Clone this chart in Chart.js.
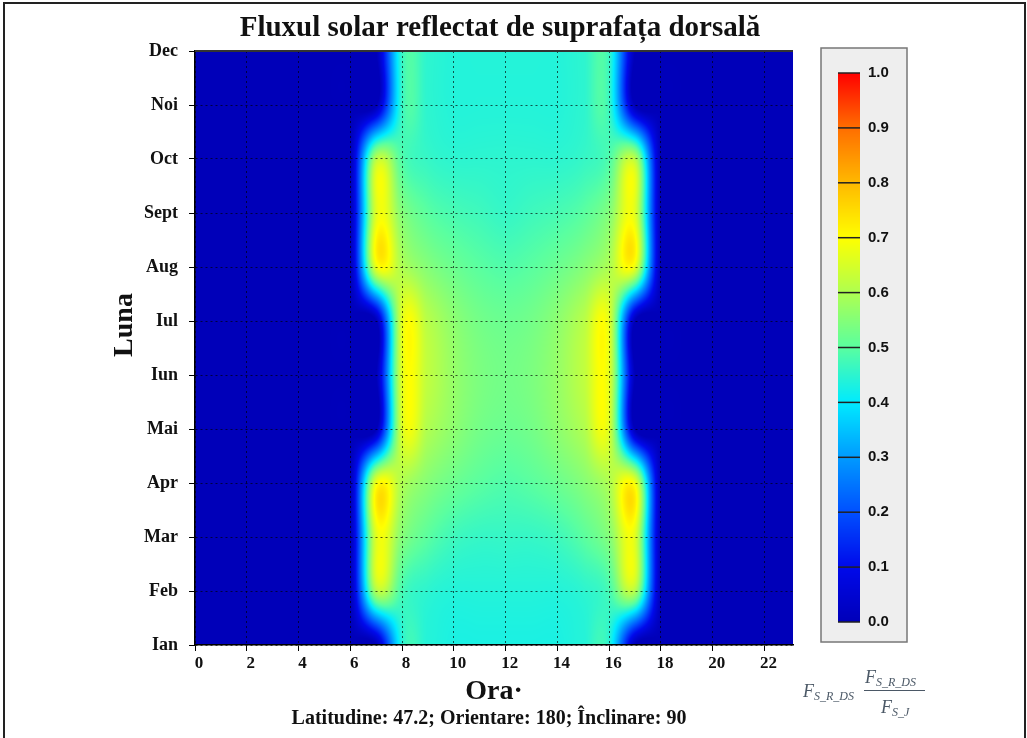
<!DOCTYPE html>
<html>
<head>
<meta charset="utf-8">
<title>Fluxul solar reflectat de suprafața dorsală</title>
<script src="https://cdn.jsdelivr.net/npm/chart.js@4.4.1/dist/chart.umd.min.js"></script>
<style>
  html, body { margin: 0; padding: 0; background: #fff; }
  #wrap { width: 1027px; height: 738px; }
</style>
</head>
<body>
<div id="wrap"><canvas id="heat" width="1027" height="738"></canvas></div>
<script>
const months = ['Ian', 'Feb', 'Mar', 'Apr', 'Mai', 'Iun', 'Iul', 'Aug', 'Sept', 'Oct', 'Noi', 'Dec'];
const hours = [0, 1, 2, 3, 4, 5, 6, 7, 8, 9, 10, 11, 12, 13, 14, 15, 16, 17, 18, 19, 20, 21, 22, 23];
const xTicks = [0, 2, 4, 6, 8, 10, 12, 14, 16, 18, 20, 22];
const barTicks = [0, 0.1, 0.2, 0.3, 0.4, 0.5, 0.6, 0.7, 0.8, 0.9, 1.0];

// F_S_R_DS / F_S_J, one value per hour (0..23)
const fluxIan  = [0, 0, 0, 0, 0, 0, 0, 0,    0.44, 0.44, 0.43, 0.43, 0.43, 0.43, 0.43, 0.44, 0.44, 0,    0, 0, 0, 0, 0, 0];
const fluxFeb  = [0, 0, 0, 0, 0, 0, 0, 0.60, 0.48, 0.45, 0.44, 0.44, 0.44, 0.44, 0.44, 0.45, 0.48, 0.60, 0, 0, 0, 0, 0, 0];
const fluxMar  = [0, 0, 0, 0, 0, 0, 0, 0.66, 0.55, 0.50, 0.47, 0.46, 0.46, 0.46, 0.47, 0.50, 0.55, 0.66, 0, 0, 0, 0, 0, 0];
const fluxApr  = [0, 0, 0, 0, 0, 0, 0, 0.68, 0.60, 0.55, 0.52, 0.50, 0.49, 0.50, 0.52, 0.55, 0.60, 0.68, 0, 0, 0, 0, 0, 0];
const fluxMai  = [0, 0, 0, 0, 0, 0, 0, 0,    0.65, 0.60, 0.56, 0.53, 0.52, 0.53, 0.56, 0.60, 0.65, 0,    0, 0, 0, 0, 0, 0];
const fluxIun  = [0, 0, 0, 0, 0, 0, 0, 0,    0.66, 0.62, 0.57, 0.54, 0.53, 0.54, 0.57, 0.62, 0.66, 0,    0, 0, 0, 0, 0, 0];
const fluxIul  = [0, 0, 0, 0, 0, 0, 0, 0,    0.66, 0.61, 0.56, 0.53, 0.52, 0.53, 0.56, 0.61, 0.66, 0,    0, 0, 0, 0, 0, 0];
const fluxAug  = [0, 0, 0, 0, 0, 0, 0, 0.67, 0.60, 0.55, 0.52, 0.50, 0.49, 0.50, 0.52, 0.55, 0.60, 0.67, 0, 0, 0, 0, 0, 0];
const fluxSept = [0, 0, 0, 0, 0, 0, 0, 0.66, 0.55, 0.50, 0.48, 0.47, 0.46, 0.47, 0.48, 0.50, 0.55, 0.66, 0, 0, 0, 0, 0, 0];
const fluxOct  = [0, 0, 0, 0, 0, 0, 0, 0.61, 0.49, 0.46, 0.45, 0.45, 0.45, 0.45, 0.45, 0.46, 0.49, 0.61, 0, 0, 0, 0, 0, 0];
const fluxNoi  = [0, 0, 0, 0, 0, 0, 0, 0,    0.46, 0.45, 0.44, 0.44, 0.44, 0.44, 0.44, 0.45, 0.46, 0,    0, 0, 0, 0, 0, 0];
const fluxDec  = [0, 0, 0, 0, 0, 0, 0, 0,    0.46, 0.45, 0.44, 0.44, 0.44, 0.44, 0.44, 0.45, 0.46, 0,    0, 0, 0, 0, 0, 0];

const fluxRows = [fluxIan, fluxFeb, fluxMar, fluxApr, fluxMai, fluxIun, fluxIul, fluxAug, fluxSept, fluxOct, fluxNoi, fluxDec];

// jet-like colour scale of the original
const jetStops = [
  [0.0, 0, 0, 185],
  [0.1, 0, 10, 235],
  [0.2, 0, 80, 255],
  [0.3, 0, 155, 255],
  [0.4, 0, 235, 255],
  [0.5, 90, 255, 160],
  [0.6, 175, 255, 80],
  [0.7, 255, 255, 0],
  [0.8, 255, 185, 0],
  [0.9, 255, 110, 0],
  [1.0, 255, 0, 0]
];

function jet(v) {
  v = Math.max(0, Math.min(1, v));
  for (let k = 1; k < jetStops.length; k++) {
    const b = jetStops[k];
    if (v <= b[0]) {
      const a = jetStops[k - 1];
      const t = (v - a[0]) / (b[0] - a[0]);
      return [a[1] + (b[1] - a[1]) * t, a[2] + (b[2] - a[2]) * t, a[3] + (b[3] - a[3]) * t];
    }
  }
  const last = jetStops[jetStops.length - 1];
  return [last[1], last[2], last[3]];
}

// catmull-rom, used for the smooth shading between grid nodes
function cr(p0, p1, p2, p3, t) {
  return p1 + 0.5 * t * (p2 - p0 + t * (2 * p0 - 5 * p1 + 4 * p2 - p3 + t * (3 * (p1 - p2) + p3 - p0)));
}

function sample(hr, m) {
  const ci = Math.floor(hr), ri = Math.floor(m);
  const tx = hr - ci, ty = m - ri;
  const col = k => Math.min(hours.length - 1, Math.max(0, k));
  const row = k => Math.min(months.length - 1, Math.max(0, k));
  const v = [];
  for (let r = -1; r <= 2; r++) {
    const d = fluxRows[row(ri + r)];
    v.push(cr(d[col(ci - 1)], d[col(ci)], d[col(ci + 1)], d[col(ci + 2)], tx));
  }
  return cr(v[0], v[1], v[2], v[3], ty);
}

const heatmapPlugin = {
  id: 'heatmap',
  beforeDraw(chart) {
    const { ctx, chartArea: a, scales: { x, y } } = chart;
    const w = Math.round(a.right - a.left), h = Math.round(a.bottom - a.top);
    const off = document.createElement('canvas');
    off.width = w; off.height = h;
    const octx = off.getContext('2d');
    const img = octx.createImageData(w, h);
    for (let j = 0; j < h; j++) {
      const m = y.getValueForPixel(a.top + j + 0.5);
      for (let i = 0; i < w; i++) {
        const hr = x.getValueForPixel(a.left + i + 0.5);
        const c = jet(sample(hr, m));
        const p = (j * w + i) * 4;
        img.data[p] = c[0]; img.data[p + 1] = c[1]; img.data[p + 2] = c[2]; img.data[p + 3] = 255;
      }
    }
    octx.putImageData(img, 0, 0);
    ctx.drawImage(off, a.left, a.top);
  }
};

const decorPlugin = {
  id: 'decor',
  afterDraw(chart) {
    const { ctx, chartArea: a } = chart;
    ctx.save();

    // top edge of the plot
    ctx.strokeStyle = '#333';
    ctx.lineWidth = 2;
    ctx.beginPath();
    ctx.moveTo(a.left, a.top);
    ctx.lineTo(a.right, a.top);
    ctx.stroke();

    // frame round the picture
    ctx.strokeStyle = '#222';
    ctx.lineWidth = 2;
    ctx.strokeRect(4, 3, 1021, 760);

    ctx.fillStyle = '#111';
    ctx.textAlign = 'center';
    ctx.textBaseline = 'middle';
    ctx.font = 'bold 29px "Liberation Serif"';
    ctx.fillText('Fluxul solar reflectat de suprafața dorsală', 500, 29);

    ctx.font = 'bold 20px "Liberation Serif"';
    ctx.fillText('Latitudine: 47.2; Orientare: 180; Înclinare: 90', 489, 719);

    ctx.save();
    ctx.translate(125, 325);
    ctx.rotate(-Math.PI / 2);
    ctx.font = 'bold 28px "Liberation Serif"';
    ctx.fillText('Luna', 0, 0);
    ctx.restore();

    // colour bar
    const boxL = 821, boxT = 48, boxR = 907, boxB = 642;
    ctx.fillStyle = '#eeeeee';
    ctx.fillRect(boxL, boxT, boxR - boxL, boxB - boxT);
    ctx.strokeStyle = '#777';
    ctx.lineWidth = 1.5;
    ctx.strokeRect(boxL, boxT, boxR - boxL, boxB - boxT);
    const barL = 838, barR = 860, barT = 73, barB = 622;
    for (let py = barT; py < barB; py++) {
      const c = jet((barB - py - 0.5) / (barB - barT));
      ctx.fillStyle = `rgb(${c[0] | 0},${c[1] | 0},${c[2] | 0})`;
      ctx.fillRect(barL, py, barR - barL, 1);
    }
    ctx.strokeStyle = '#222';
    ctx.lineWidth = 1.5;
    ctx.font = 'bold 15px "Liberation Sans"';
    ctx.textAlign = 'left';
    ctx.textBaseline = 'middle';
    barTicks.forEach(t => {
      const py = barB - t * (barB - barT);
      ctx.beginPath();
      ctx.moveTo(barL, py);
      ctx.lineTo(barR, py);
      ctx.stroke();
      ctx.fillStyle = '#111';
      ctx.fillText(t.toFixed(1), 868, py);
    });

    // formula under the bar
    ctx.fillStyle = '#4b5866';
    ctx.textBaseline = 'alphabetic';
    const big = 'italic 18px "Liberation Serif"', small = 'italic 12px "Liberation Serif"';
    ctx.font = big; ctx.fillText('F', 803, 697);
    ctx.font = small; ctx.fillText('S_R_DS', 814, 700);
    ctx.font = big; ctx.fillText('F', 865, 683);
    ctx.font = small; ctx.fillText('S_R_DS', 876, 686);
    ctx.strokeStyle = '#4b5866';
    ctx.lineWidth = 1;
    ctx.beginPath();
    ctx.moveTo(864, 690.5);
    ctx.lineTo(925, 690.5);
    ctx.stroke();
    ctx.font = big; ctx.fillText('F', 881, 713);
    ctx.font = small; ctx.fillText('S_J', 892, 716);

    ctx.restore();
  }
};

new Chart(document.getElementById('heat').getContext('2d'), {
  type: 'scatter',
  data: { datasets: [{ data: [], pointRadius: 0 }] },
  options: {
    responsive: false,
    animation: false,
    layout: { padding: { left: 0, right: 234, top: 51, bottom: 0 } },
    plugins: { legend: { display: false }, tooltip: { enabled: false } },
    scales: {
      x: {
        type: 'linear',
        min: 0,
        max: 23.1,
        afterBuildTicks: ax => { ax.ticks = xTicks.map(v => ({ value: v })); },
        afterFit: ax => { ax.height = 93; },
        ticks: { color: '#111', font: { family: 'Liberation Serif', weight: 'bold', size: 17 }, padding: 2, maxRotation: 0, labelOffset: 4 },
        grid: { color: 'rgba(0,0,0,0.65)', lineWidth: 1, tickLength: 6, tickColor: '#000', tickBorderDash: [] },
        border: { display: true, color: '#000', width: 1.5, dash: [2, 3] },
        title: {
          display: true,
          text: 'Ora·',
          color: '#111',
          font: { family: 'Liberation Serif', weight: 'bold', size: 28 },
          padding: { top: 0, bottom: 29 }
        }
      },
      y: {
        type: 'linear',
        min: 0,
        max: 11,
        afterBuildTicks: ax => { ax.ticks = months.map((m, i) => ({ value: i })); },
        afterFit: ax => { ax.width = 195; },
        ticks: { color: '#111', font: { family: 'Liberation Serif', weight: 'bold', size: 18 }, padding: 11, callback: v => months[v] },
        grid: { color: 'rgba(0,0,0,0.65)', lineWidth: 1, tickLength: 6, tickColor: '#000', tickBorderDash: [] },
        border: { display: true, color: '#000', width: 1.5, dash: [2, 3] }
      }
    }
  },
  plugins: [heatmapPlugin, decorPlugin]
});
</script>
</body>
</html>
